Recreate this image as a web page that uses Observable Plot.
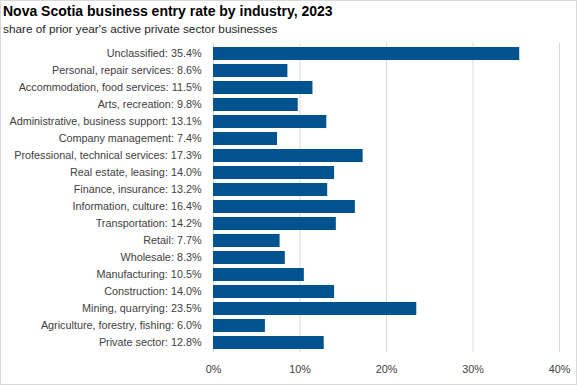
<!DOCTYPE html>
<html>
<head>
<meta charset="utf-8">
<script src="https://cdn.jsdelivr.net/npm/d3@7"></script>
<script src="https://cdn.jsdelivr.net/npm/@observablehq/plot@0.6"></script>
<style>
  html, body { margin: 0; padding: 0; background: #fff; }
  #frame { position: absolute; left: 0; top: 0; width: 577px; height: 385px; box-sizing: border-box; border: 1px solid #d9d9d9; }
  #title { position: absolute; left: 3px; top: 3px; font: bold 14px "Liberation Sans", Arial, sans-serif; color: #000; white-space: nowrap; }
  #subtitle { position: absolute; left: 3px; top: 22px; font: 11.8px "Liberation Sans", Arial, sans-serif; color: #262626; white-space: nowrap; }
  #chart { position: absolute; left: 0; top: 38px; }
</style>
</head>
<body>
<div id="frame"></div>
<div id="title">Nova Scotia business entry rate by industry, 2023</div>
<div id="subtitle">share of prior year's active private sector businesses</div>
<div id="chart"></div>
<script>
const industries = [
  "Unclassified",
  "Personal, repair services",
  "Accommodation, food services",
  "Arts, recreation",
  "Administrative, business support",
  "Company management",
  "Professional, technical services",
  "Real estate, leasing",
  "Finance, insurance",
  "Information, culture",
  "Transportation",
  "Retail",
  "Wholesale",
  "Manufacturing",
  "Construction",
  "Mining, quarrying",
  "Agriculture, forestry, fishing",
  "Private sector"
];
const rates = [35.4, 8.6, 11.5, 9.8, 13.1, 7.4, 17.3, 14.0, 13.2, 16.4, 14.2, 7.7, 8.3, 10.5, 14.0, 23.5, 6.0, 12.8];
const xTicks = [0, 10, 20, 30, 40];

const data = industries.map((name, i) => ({
  label: `${name}: ${rates[i].toFixed(1)}%`,
  value: rates[i]
}));

const chart = Plot.plot({
  width: 577,
  height: 346,
  marginTop: 5,
  marginBottom: 32,
  marginLeft: 213,
  marginRight: 18,
  style: { background: "transparent", fontFamily: "'Liberation Sans', Arial, sans-serif", fontSize: "10.8px", color: "#404040" },
  x: { domain: [0, 40], ticks: xTicks, tickFormat: d => d + "%", label: null },
  y: { domain: data.map(d => d.label), paddingInner: 0.25, paddingOuter: 0.09, label: null },
  marks: [
    Plot.gridX(xTicks, { stroke: "#d9d9d9", strokeOpacity: 1 }),
    Plot.barX(data, { x: "value", y: "label", fill: "#00538f" }),
    Plot.axisX({ ticks: xTicks, tickSize: 0, tickPadding: 13, tickFormat: d => d + "%", label: null, fill: "#404040" }),
    Plot.axisY({ tickSize: 0, tickPadding: 12, label: null, fill: "#404040" })
  ]
});
document.getElementById("chart").appendChild(chart);
</script>
</body>
</html>
